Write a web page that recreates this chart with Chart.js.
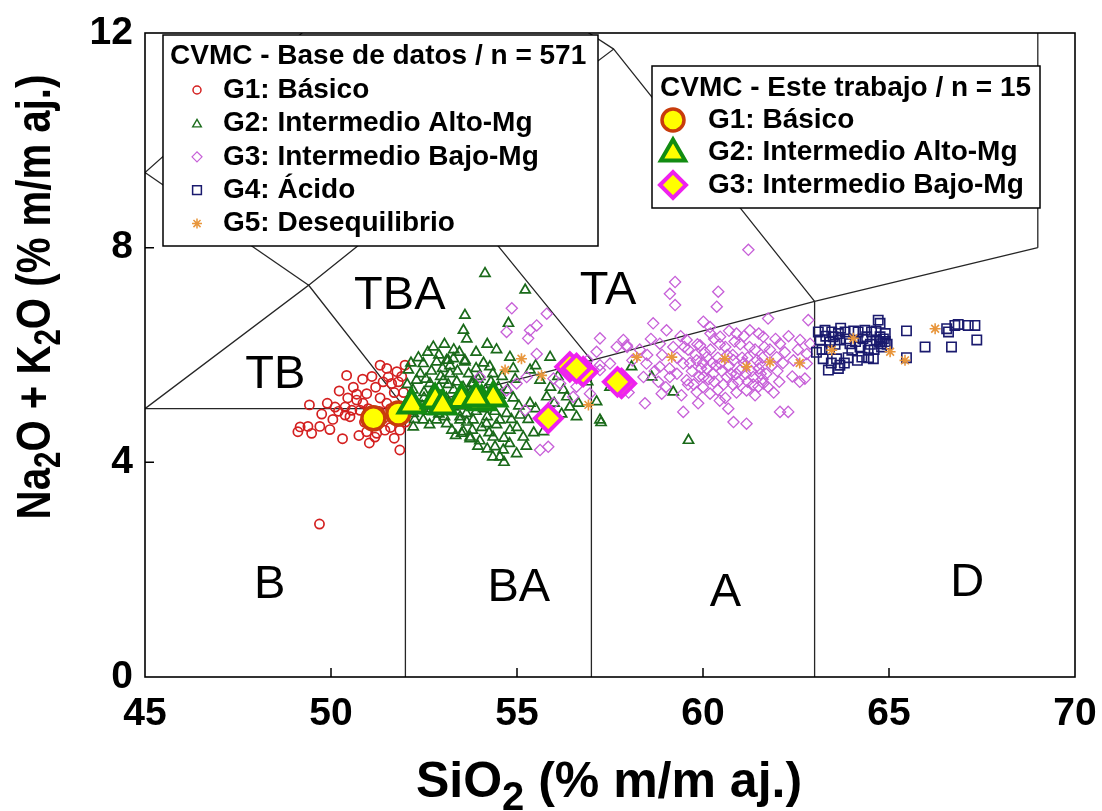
<!DOCTYPE html>
<html><head><meta charset="utf-8">
<style>html,body{margin:0;padding:0;background:#fff;}canvas{display:block;}</style>
<script src="https://cdn.jsdelivr.net/npm/chart.js@4.4.1/dist/chart.umd.min.js"></script>
</head><body>
<canvas id="c" width="1102" height="811"></canvas>
<script>
// ---- axis ticks ----
const xTicks = [45, 50, 55, 60, 65, 70];
const yTicks = [0, 4, 8, 12];

// ---- TAS field boundaries (SiO2, Na2O+K2O) ----
const bLower = [[45,5],[52,5],[57,5.9],[63,7],[69,8]];
const b52 = [[52,0],[52,5]];
const b57 = [[57,0],[57,5.9]];
const b63 = [[63,0],[63,7]];
const b69 = [[69,8],[69,13]];
const bTB = [[45,5],[49.4,7.3],[52,5]];
const bBTA = [[49.4,7.3],[53,9.3],[57,5.9]];
const bTA = [[53,9.3],[57.6,11.7],[63,7]];
const bPT = [[41,7],[45,9.4],[48.4,11.5],[52.5,14]];
const bU1 = [[45,9.4],[49.4,7.3]];
const bU2 = [[48.4,11.5],[53,9.3]];
const bU3 = [[52.5,14],[57.6,11.7]];

// ---- field labels ----
const fieldNames = ["TB","TBA","TA","B","BA","A","D"];
const fieldX = [48.5, 51.85, 57.45, 48.35, 55.05, 60.6, 67.1];
const fieldY = [5.62, 7.1, 7.2, 1.71, 1.66, 1.56, 1.75];

// ---- CVMC database (n = 571) ----
const g1Base = [[50.42,5.62],[50.85,5.55],[51.32,5.81],[51.99,5.81],[51.77,5.69],[51.54,5.59],[50.22,5.33],[50.69,5.27],[50.96,5.28],[51.32,5.2],[49.42,5.07],[50.11,5.03],[50.38,5.03],[50.56,4.97],[50.38,4.88],[50.78,4.97],[49.17,4.66],[49.38,4.67],[49.7,4.67],[49.97,4.61],[49.48,4.54],[49.11,4.57],[50.31,4.44],[51.03,4.36],[51.23,4.54],[51.85,4.23],[51.85,4.6],[49.69,2.85],[51.63,5.47],[51.81,5.5],[50.51,4.85],[50.69,5.16],[50.86,5.1],[50.96,4.57],[51.41,4.82],[51.18,4.47],[51.0,5.0],[51.5,5.1],[51.7,5.3],[50.2,4.95],[51.9,4.95],[52.0,4.75],[51.6,4.65],[51.2,5.4],[50.6,5.4],[49.9,5.1],
  [51.1,5.6],[51.4,5.5],[51.6,5.0],[51.3,4.95],[50.9,4.75],[51.45,4.6],[51.7,4.45],[50.45,5.2],[50.05,4.8],[51.95,5.3],[51.5,5.75],[50.75,4.5],[51.9,5.6],[49.75,4.9]];
const g2Base = [[54.14,7.52],[55.22,7.21],[53.6,6.74],[53.56,6.46],[54.77,6.59],[52.08,5.72],[52.48,5.84],[52.84,5.87],[53.11,5.9],[53.29,5.93],[53.6,5.87],[52.3,5.53],[52.66,5.47],[53.02,5.53],[53.38,5.5],[53.78,5.47],[52.21,4.91],[52.48,4.79],[52.84,4.79],[53.11,4.72],[53.47,4.85],[53.82,4.79],[53.51,4.54],[53.74,4.44],[52.21,4.66],[53.15,5.9],[53.6,5.9],[53.2,5.65],[53.82,5.47],[52.93,5.16],[53.29,5.03],[53.64,4.91],[53.47,4.79],[54.18,4.72],[54.54,4.79],[54.72,4.91],[54.81,4.6],[53.56,4.57],[53.74,4.47],[54.36,4.47],[54.41,4.29],[54.63,4.23],[54.99,4.16],[54.54,4.1],[55.35,5.1],[55.8,5.22],[56.34,5.22],[56.42,5.03],[56.6,4.85],[57.23,4.79],[57.14,5.13],[55.17,4.47],[55.71,4.57],[55.08,4.88],[55.62,5.53],[54.81,5.96],[55.89,5.96],[55.35,5.72],[54.27,5.78],[52.1,5.2],[52.3,5.1],[52.5,5.3],[52.7,5.0],[52.9,5.4],[53.1,5.2],[53.3,5.35],[53.5,5.2],[53.7,5.1],[53.9,5.3],[54.1,5.0],[54.3,5.2],[54.5,5.4],[52.4,5.65],[52.7,5.7],[53.0,5.75],[53.4,5.7],[53.7,5.65],[54.0,5.6],[54.3,5.5],[54.6,5.6],[52.6,4.95],[52.9,4.9],[53.2,4.95],[53.9,4.95],[54.2,4.85],[54.4,4.95],[54.6,5.1],[54.9,5.2],[52.2,5.35],[53.8,4.6],[54.0,4.4],[54.2,4.25],[54.8,4.35],[55.0,4.65],[55.3,4.8],[55.5,5.0],[56.0,5.1],[56.2,4.9],[55.9,5.4],[56.1,5.6],[55.5,5.8],[54.9,5.75],[52.9,6.0],[53.3,6.1],[53.9,6.05],[54.2,6.2],[52.6,6.05],[59.61,4.41],[58.08,5.78],[58.62,5.59],[59.2,5.31],[57.26,4.74],[57.5,5.4],[56.9,5.5],
  [52.15,5.85],[52.35,5.95],[52.55,5.55],[52.75,5.35],[52.95,5.6],[53.15,5.45],[53.35,5.15],[53.55,5.4],[53.75,5.3],[53.95,5.55],[54.15,5.35],[54.35,5.65],[54.55,5.25],[52.25,4.8],[52.45,5.05],[52.65,4.7],[52.85,5.25],[53.05,4.85],[53.25,4.6],[53.45,5.05],[53.65,4.75],[53.85,5.1],[54.05,4.65],[54.25,4.55],[54.45,4.7],[54.65,4.45],[54.85,4.8],[55.05,5.05],[54.75,5.35],[54.95,5.55],[53.05,6.2],[53.45,6.05],[52.75,6.15],[54.45,6.1],[53.65,6.3],[52.05,5.45],[52.15,4.95],[53.95,4.3],[54.35,4.1],[53.35,4.5],[54.65,4.0],[55.25,4.3],[55.45,4.55],[55.85,4.75],[56.25,5.35],[56.65,5.1],[52.5,5.2],[53.9,5.75],[54.1,5.85],[53.2,5.8]];
const g3Base = [[61.22,7.96],[59.25,7.36],[59.11,7.14],[59.25,6.93],[60.41,7.18],[60.37,6.9],[58.66,6.59],[59.02,6.46],[60.01,6.62],[60.19,6.52],[61.75,6.68],[62.83,6.65],[57.96,6.15],[58.84,6.21],[59.56,6.28],[59.92,6.18],[60.46,6.34],[60.9,6.4],[61.26,6.46],[61.62,6.34],[62.07,6.21],[62.61,6.28],[62.88,6.21],[58.48,5.84],[58.84,5.78],[59.47,5.84],[59.83,5.9],[60.1,5.96],[60.46,5.84],[60.82,5.9],[61.0,5.72],[61.53,5.84],[61.98,5.96],[62.43,5.9],[62.79,5.84],[58.4,5.59],[59.11,5.59],[59.56,5.53],[60.01,5.59],[60.28,5.65],[60.64,5.59],[61.35,5.59],[61.62,5.47],[62.74,5.56],[58.89,5.28],[59.42,5.25],[59.83,5.31],[60.19,5.28],[61.17,5.34],[61.49,5.41],[58.44,5.1],[59.47,4.94],[59.87,5.1],[60.68,5.0],[60.82,4.75],[61.17,4.72],[62.07,4.94],[62.29,4.94],[57.86,6.28],[62.79,6.02],[59.6,6.1],[59.8,6.0],[60.0,5.85],[60.2,6.1],[60.4,5.95],[60.6,6.15],[60.8,6.0],[61.0,6.2],[61.2,5.95],[61.4,6.1],[61.6,5.95],[61.8,6.1],[59.7,5.7],[59.9,5.6],[60.1,5.75],[60.3,5.5],[60.5,5.7],[60.7,5.8],[60.9,5.65],[61.1,5.85],[61.3,5.7],[61.5,5.75],[61.7,5.65],[59.6,5.45],[60.0,5.4],[60.4,5.35],[60.8,5.45],[61.2,5.5],[61.6,5.55],[62.0,5.7],[62.2,6.05],[62.4,5.6],[59.3,5.95],[59.1,5.75],[58.9,6.0],[58.7,5.7],[58.6,6.3],[59.4,6.35],[60.2,6.4],[60.7,6.45],[61.5,6.4],[62.3,6.35],[61.9,5.3],[60.6,5.2],[59.0,5.4],[58.3,6.1],[58.1,5.9],[57.7,5.6],[58.0,5.3],[54.86,6.87],[54.72,6.43],[55.35,6.46],[55.53,6.55],[55.8,6.77],[55.3,6.31],[55.53,6.02],[57.23,6.31],[57.14,6.06],[57.68,6.15],[57.95,6.18],[54.0,5.59],[54.72,5.34],[54.99,5.47],[55.26,5.59],[55.98,5.56],[56.16,5.47],[56.6,5.41],[57.23,5.72],[57.5,5.84],[56.96,5.28],[56.51,5.22],[55.98,5.1],[55.22,4.97],[55.62,4.23],[55.84,4.29],[57.23,5.81],
  [59.65,5.85],[59.85,6.2],[60.05,6.05],[60.25,5.85],[60.45,6.2],[60.65,6.0],[60.85,6.25],[61.05,5.95],[61.25,6.15],[61.45,5.9],[61.65,6.15],[61.85,5.8],[59.75,5.45],[59.95,5.75],[60.15,5.55],[60.35,5.8],[60.55,5.45],[60.75,5.65],[60.95,5.5],[61.15,5.65],[61.35,5.45],[61.55,5.65],[61.75,5.4],[62.05,5.5],[62.15,5.85],[62.55,6.1],[60.3,6.3],[61.1,6.35],[59.5,6.15],[59.3,5.65],[58.8,5.5],[59.2,6.15],[62.6,5.5],[61.95,6.3],[60.9,5.3],[60.45,5.15],[61.4,5.25],[58.5,6.0],[57.9,5.45],[56.9,5.9]];
const g4Base = [[63.1,6.43],[63.28,6.46],[63.46,6.43],[63.64,6.4],[63.82,6.43],[63.15,6.28],[63.41,6.24],[63.68,6.28],[63.95,6.21],[64.17,6.43],[64.35,6.46],[64.53,6.43],[64.76,6.59],[64.71,6.65],[64.66,6.28],[64.8,6.21],[64.76,6.34],[64.22,6.15],[64.44,6.09],[64.27,5.96],[64.58,5.93],[64.0,6.09],[63.23,5.93],[63.59,5.93],[63.68,5.81],[63.37,5.72],[63.64,5.75],[65.47,6.45],[65.97,6.15],[66.68,6.15],[66.55,6.49],[66.6,6.43],[66.77,6.55],[66.86,6.57],[67.13,6.55],[67.31,6.55],[67.36,6.28],[65.47,5.95],[63.5,6.34],[64.4,6.34],[63.3,6.35],[63.7,6.5],[64.1,6.25],[64.6,6.1],[64.9,6.4],[64.95,6.2],[63.9,5.95],[63.4,6.1],[64.75,6.25],[64.85,6.3],[64.8,6.15],[64.9,6.25],
  [63.2,6.1],[63.55,6.2],[63.85,6.3],[64.05,6.45],[64.3,6.3],[64.5,6.2],[64.65,6.45],[64.45,5.95],[63.8,5.85],[63.45,5.85],[63.05,6.05],[64.15,5.9]];
const g5Base = [[64.04,6.31],[65.03,6.06],[65.43,5.9],[66.24,6.49],[63.46,6.09],[55.12,5.93],[54.68,5.72],[55.66,5.62],[56.92,5.07],[58.22,5.96],[59.16,5.96],[60.59,5.93],[61.8,5.87],[61.17,5.78],[62.6,5.85]];

// ---- CVMC this work (n = 15) ----
const g1Work = [[51.14,4.82],[51.81,4.91]];
const g2Work = [[52.17,5.07],[52.8,5.16],[53.51,5.17],[54.05,5.13],[54.36,5.2],[53.0,5.05],[53.9,5.2]];
const g3Work = [[56.42,5.78],[56.78,5.69],[55.84,4.82],[57.81,5.47],[56.6,5.75],[57.7,5.5]];

const FONT = "'Liberation Sans', Arial, Helvetica, sans-serif";
const toXY = a => a.map(p => ({x: p[0], y: p[1]}));

function lineDs(pts) {
  return {type: 'scatter', data: toXY(pts), showLine: true, borderColor: '#262626', borderWidth: 1.3,
          pointRadius: 0, fill: false, order: 20, tension: 0};
}
function ptDs(label, pts, style, r, border, bg, bw, order) {
  return {type: 'scatter', label, data: toXY(pts), showLine: false, pointStyle: style, pointRadius: r,
          pointBorderColor: border, pointBackgroundColor: bg, pointBorderWidth: bw, order};
}

const legendBase = [
  {text: 'G1: Básico', style: 'circle', r: 4, border: '#d42020', bg: 'rgba(0,0,0,0)', bw: 1.5},
  {text: 'G2: Intermedio Alto-Mg', style: 'triangle', r: 5, border: '#1e6e1e', bg: 'rgba(0,0,0,0)', bw: 1.4},
  {text: 'G3: Intermedio Bajo-Mg', style: 'rectRot', r: 5, border: '#c75fd8', bg: 'rgba(0,0,0,0)', bw: 1.2},
  {text: 'G4: Ácido', style: 'rect', r: 6.2, border: '#1a1a6e', bg: 'rgba(0,0,0,0)', bw: 1.5},
  {text: 'G5: Desequilibrio', style: 'star', r: 5, border: '#e8963c', bg: 'rgba(0,0,0,0)', bw: 1.5}
];
const legendWork = [
  {text: 'G1: Básico', style: 'circle', r: 11, border: '#c83c0c', bg: '#ffff00', bw: 3.5},
  {text: 'G2: Intermedio Alto-Mg', style: 'triangle', r: 14, border: '#128c12', bg: '#ffff00', bw: 4},
  {text: 'G3: Intermedio Bajo-Mg', style: 'rectRot', r: 13, border: '#ee22ee', bg: '#ffff00', bw: 4}
];

const datasets = [
  lineDs(bLower), lineDs(b52), lineDs(b57), lineDs(b63), lineDs(b69), lineDs(bTB), lineDs(bBTA),
  lineDs(bTA), lineDs(bPT), lineDs(bU1), lineDs(bU2), lineDs(bU3),
  ptDs('G1 base', g1Base, 'circle', 4.6, '#d42020', 'rgba(0,0,0,0)', 1.7, 9),
  ptDs('G2 base', g2Base, 'triangle', 5.8, '#1a6a1a', 'rgba(0,0,0,0)', 1.7, 8),
  ptDs('G3 base', g3Base, 'rectRot', 5.6, '#c75fd8', 'rgba(0,0,0,0)', 1.3, 7),
  ptDs('G4 base', g4Base, 'rect', 6.6, '#1a1a6e', 'rgba(0,0,0,0)', 1.6, 6),
  ptDs('G5 base', g5Base, 'star', 5.5, '#e8963c', 'rgba(0,0,0,0)', 1.6, 5),
  ptDs('G1 work', g1Work, 'circle', 11.5, '#c83c0c', '#ffff00', 3.5, 2),
  ptDs('G2 work', g2Work, 'triangle', 15, '#128c12', '#ffff00', 4, 1),
  ptDs('G3 work', g3Work, 'rectRot', 13.5, '#ee22ee', '#ffff00', 4, 0)
];

function drawRich(ctx, parts, x, y, align) {
  let w = 0;
  parts.forEach(p => { ctx.font = 'bold ' + p.size + 'px ' + FONT; w += ctx.measureText(p.t).width; });
  let cx = align === 'center' ? x - w / 2 : x;
  ctx.textAlign = 'left';
  ctx.textBaseline = 'alphabetic';
  parts.forEach(p => {
    ctx.font = 'bold ' + p.size + 'px ' + FONT;
    ctx.fillText(p.t, cx, y + (p.dy || 0));
    cx += ctx.measureText(p.t).width;
  });
}

function drawLegendBox(ctx, box, title, items, opt) {
  ctx.save();
  ctx.fillStyle = '#fff';
  ctx.fillRect(box.x, box.y, box.w, box.h);
  ctx.strokeStyle = '#000';
  ctx.lineWidth = 1.5;
  ctx.strokeRect(box.x, box.y, box.w, box.h);
  ctx.fillStyle = '#000';
  ctx.font = 'bold ' + opt.size + 'px ' + FONT;
  ctx.textAlign = 'left';
  ctx.textBaseline = 'middle';
  ctx.fillText(title, opt.titleX, opt.titleY);
  items.forEach((it, i) => {
    const yy = opt.rowY + i * opt.rowH;
    ctx.strokeStyle = it.border;
    ctx.fillStyle = it.bg;
    ctx.lineWidth = it.bw;
    Chart.helpers.drawPoint(ctx, {pointStyle: it.style, radius: it.r, rotation: 0, borderWidth: it.bw}, opt.markX, yy + (it.style === 'triangle' ? 1 : 0));
    ctx.fillStyle = '#000';
    ctx.font = 'bold ' + opt.size + 'px ' + FONT;
    ctx.textBaseline = 'middle';
    ctx.fillText(it.text, opt.textX, yy);
  });
  ctx.restore();
}

const decor = {
  id: 'decor',
  afterDatasetsDraw(chart) {
    const ctx = chart.ctx, a = chart.chartArea, xs = chart.scales.x, ys = chart.scales.y;
    ctx.save();
    ctx.fillStyle = '#000';
    ctx.font = '47px ' + FONT;
    ctx.textAlign = 'center';
    ctx.textBaseline = 'middle';
    fieldNames.forEach((n, i) => ctx.fillText(n, xs.getPixelForValue(fieldX[i]), ys.getPixelForValue(fieldY[i])));
    ctx.strokeStyle = '#000';
    ctx.lineWidth = 1.6;
    ctx.strokeRect(a.left, a.top, a.right - a.left, a.bottom - a.top);
    ctx.lineWidth = 1.5;
    ctx.beginPath();
    xTicks.slice(1, -1).forEach(v => { const p = xs.getPixelForValue(v); ctx.moveTo(p, a.bottom); ctx.lineTo(p, a.bottom - 9); });
    yTicks.slice(1, -1).forEach(v => { const p = ys.getPixelForValue(v); ctx.moveTo(a.left, p); ctx.lineTo(a.left + 9, p); });
    ctx.stroke();
    ctx.restore();
    drawLegendBox(ctx, {x: 163, y: 35, w: 435, h: 211}, 'CVMC - Base de datos / n = 571', legendBase,
      {size: 28, titleX: 170, titleY: 56, rowY: 90, rowH: 33.4, markX: 197, textX: 223});
    drawLegendBox(ctx, {x: 652, y: 66, w: 388, h: 142}, 'CVMC - Este trabajo / n = 15', legendWork,
      {size: 28, titleX: 660, titleY: 88, rowY: 120, rowH: 32.5, markX: 673, textX: 708});
  },
  afterDraw(chart) {
    const ctx = chart.ctx;
    ctx.save();
    ctx.fillStyle = '#000';
    drawRich(ctx, [{t: 'SiO', size: 50}, {t: '2', size: 40, dy: 13}, {t: ' (% m/m aj.)', size: 50}], 609, 797, 'center');
    ctx.translate(50, 297);
    ctx.rotate(-Math.PI / 2);
    ctx.scale(0.82, 1);
    drawRich(ctx, [{t: 'Na', size: 49}, {t: '2', size: 36, dy: 10}, {t: 'O + K', size: 49}, {t: '2', size: 36, dy: 10}, {t: 'O (% m/m aj.)', size: 49}], 0, 0, 'center');
    ctx.restore();
  }
};

new Chart(document.getElementById('c'), {
  type: 'scatter',
  data: {datasets},
  options: {
    responsive: false,
    animation: false,
    layout: {padding: {top: 33, right: 27, left: 0, bottom: 0}},
    plugins: {legend: {display: false}, tooltip: {enabled: false}},
    scales: {
      x: {
        type: 'linear', min: 45, max: 70,
        afterBuildTicks: s => { s.ticks = xTicks.map(v => ({value: v})); },
        afterFit: s => { s.height = 134; s.paddingLeft = 0; s.paddingRight = 0; },
        grid: {display: false, drawTicks: false},
        border: {display: false},
        ticks: {color: '#000', padding: 14, font: {family: FONT, size: 39, weight: 'bold'}, maxRotation: 0, autoSkip: false}
      },
      y: {
        type: 'linear', min: 0, max: 12,
        afterBuildTicks: s => { s.ticks = yTicks.map(v => ({value: v})); },
        afterFit: s => { s.width = 145; s.paddingTop = 0; s.paddingBottom = 0; },
        grid: {display: false, drawTicks: false},
        border: {display: false},
        ticks: {color: '#000', padding: 12, font: {family: FONT, size: 39, weight: 'bold'}, autoSkip: false}
      }
    }
  },
  plugins: [decor]
});
</script>
</body></html>
